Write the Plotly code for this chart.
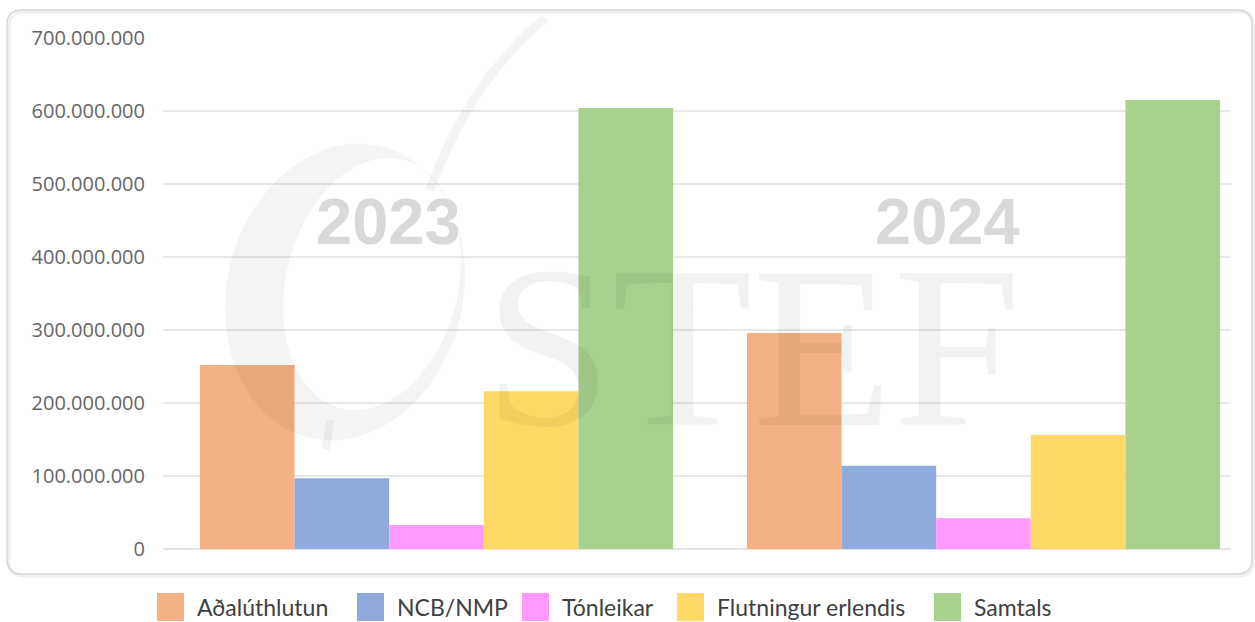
import numpy as np
import plotly.graph_objects as go

# ---------------- data ----------------
years = ["2023", "2024"]
series_names = ["Aðalúthlutun", "NCB/NMP", "Tónleikar", "Flutningur erlendis", "Samtals"]
adaluthlutun = [252_000_000, 296_000_000]
ncb_nmp = [97_000_000, 114_000_000]
tonleikar = [33_000_000, 42_000_000]
flutningur = [216_000_000, 156_000_000]
samtals = [604_000_000, 615_000_000]
series_values = [adaluthlutun, ncb_nmp, tonleikar, flutningur, samtals]
colors = ["#F4B183", "#8FAADC", "#FF99FF", "#FFD966", "#A9D18E"]
y_ticks = [0, 100_000_000, 200_000_000, 300_000_000, 400_000_000,
           500_000_000, 600_000_000, 700_000_000]

# ---------------- geometry ----------------
W, H = 1255, 622
L, R, T, B = 163, 24, 38, 73
PW, PH = W - L - R, H - T - B


def fx(px):
    return (px - L) / PW


def fy(py):
    return (H - B - py) / PH


fig = go.Figure()
for name, vals, col in zip(series_names, series_values, colors):
    fig.add_trace(go.Bar(x=years, y=vals, name=name, marker_color=col,
                         marker_line_width=0, showlegend=False))

shapes = []

# rounded outer frame (with faint shadow)
def rrect(x0, y0, x1, y1, r):
    pts = [
        ("M", [(x0 + r, y0)]), ("L", [(x1 - r, y0)]), ("Q", [(x1, y0), (x1, y0 + r)]),
        ("L", [(x1, y1 - r)]), ("Q", [(x1, y1), (x1 - r, y1)]),
        ("L", [(x0 + r, y1)]), ("Q", [(x0, y1), (x0, y1 - r)]),
        ("L", [(x0, y0 + r)]), ("Q", [(x0, y0), (x0 + r, y0)]),
    ]
    s = ""
    for cmd, ps in pts:
        s += cmd + " " + " ".join(f"{fx(a):.5f},{fy(b):.5f}" for a, b in ps) + " "
    return s + "Z"

shapes.append(dict(type="path", xref="paper", yref="paper", path=rrect(9, 12, 1254, 576, 15),
                   line=dict(color="rgba(0,0,0,0.06)", width=3), layer="below"))
shapes.append(dict(type="path", xref="paper", yref="paper", path=rrect(7, 10, 1252, 574, 15),
                   line=dict(color="#D6D6D6", width=1.5), fillcolor="rgba(0,0,0,0)", layer="below"))

# faint logo watermark (crescent ring + flourish)
def ellipse_pts(cx, cy, rx, ry, rot_deg, n=90):
    t = np.linspace(0, 2 * np.pi, n, endpoint=False)
    a = np.deg2rad(rot_deg)
    x = rx * np.cos(t)
    y = ry * np.sin(t)
    xr = cx + x * np.cos(a) - y * np.sin(a)
    yr = cy + x * np.sin(a) + y * np.cos(a)
    return list(zip(xr, yr))

def poly_path(pts):
    return "M " + " L ".join(f"{fx(a):.5f},{fy(b):.5f}" for a, b in pts) + " Z"

outer = ellipse_pts(345, 292, 118, 150, 14)
inner = ellipse_pts(372, 284, 86, 128, 14)
shapes.append(dict(type="path", xref="paper", yref="paper",
                   path=poly_path(outer) + " " + poly_path(inner),
                   fillcolor="rgba(0,0,0,0.045)", line=dict(width=0), layer="above"))
flourish = f"M {fx(430):.5f},{fy(190):.5f} Q {fx(470):.5f},{fy(80):.5f} {fx(545):.5f},{fy(18):.5f}"
shapes.append(dict(type="path", xref="paper", yref="paper", path=flourish,
                   line=dict(color="rgba(0,0,0,0.045)", width=9), layer="above"))
stem = f"M {fx(330):.5f},{fy(420):.5f} L {fx(326):.5f},{fy(450):.5f}"
shapes.append(dict(type="path", xref="paper", yref="paper", path=stem,
                   line=dict(color="rgba(0,0,0,0.045)", width=8), layer="above"))

annotations = []
# STEF watermark
annotations.append(dict(x=fx(752), y=fy(347), xref="paper", yref="paper", text="STEF",
                        showarrow=False, xanchor="center", yanchor="middle",
                        font=dict(family="Liberation Serif", size=230, color="rgba(0,0,0,0.05)")))
# year labels
for yr, cx in zip(years, [388, 947]):
    annotations.append(dict(x=fx(cx), y=fy(221), xref="paper", yref="paper", text=f"<b>{yr}</b>",
                            showarrow=False, xanchor="center", yanchor="middle",
                            font=dict(family="Liberation Sans", size=65, color="#D9D9D9")))

# custom legend
legend_sq_x = [157, 357, 522, 677, 934]
for name, col, sx in zip(series_names, colors, legend_sq_x):
    shapes.append(dict(type="rect", xref="paper", yref="paper",
                       x0=fx(sx), x1=fx(sx + 27), y0=fy(621), y1=fy(593),
                       fillcolor=col, line=dict(width=0)))
    annotations.append(dict(x=fx(sx + 38), y=fy(607), xref="paper", yref="paper", text=name,
                            showarrow=False, xanchor="left", yanchor="middle",
                            font=dict(family="Lato", size=23, color="#404040")))

fig.update_layout(
    width=W, height=H,
    margin=dict(l=L, r=R, t=T, b=B, pad=0),
    paper_bgcolor="white", plot_bgcolor="white",
    barmode="group", bargap=0.135, bargroupgap=0,
    separators=",.",
    showlegend=False,
    shapes=shapes, annotations=annotations,
    xaxis=dict(type="category", range=[-0.5, 1.4525], showticklabels=False,
               showgrid=False, zeroline=False, showline=False),
    yaxis=dict(range=[0, 700_000_000], tickvals=y_ticks, tickformat=",d",
               showgrid=True, gridcolor="#E8E8E8", gridwidth=1.5,
               zeroline=True, zerolinecolor="#E3E3E3", zerolinewidth=1.5,
               showline=False, ticks="outside", ticklen=13, tickcolor="rgba(0,0,0,0)",
               tickfont=dict(family="Open Sans", size=20, color="#666666")),
)

fig.write_html("out.html",
               config={"displayModeBar": False},
               post_script="document.body.style.margin='0';document.body.style.overflow='hidden';")
